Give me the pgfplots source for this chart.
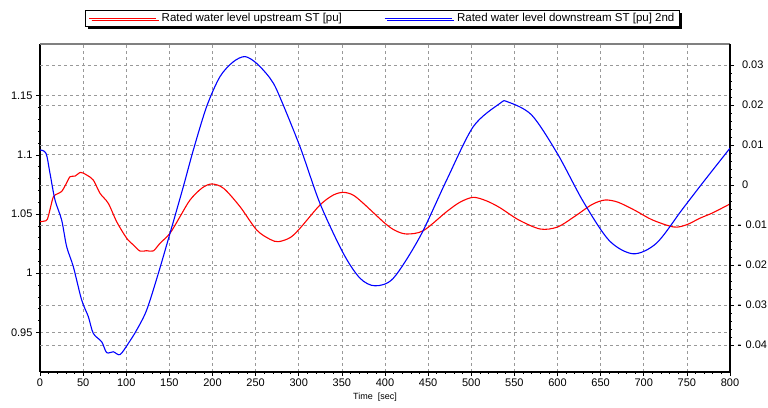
\documentclass[border=0pt]{standalone}
\usepackage{fontspec}
\setmainfont{Liberation Sans}
\usepackage{pgfplots}
\pgfplotsset{compat=1.18}
\usetikzlibrary{shadows}

\newcommand{\dash}{\makebox[0pt][l]{\rule[3pt]{3.6pt}{0.9pt}}-\hspace{4.5pt}}

\pgfplotstableread{
t v
0 1.0435
5 1.0440
8.5 1.0455
12 1.055
15.5 1.0646
20 1.067
25 1.069
30 1.075
34.8 1.0815
40.6 1.082
47.1 1.0852
54 1.083
61.8 1.0787
69.6 1.0675
79.2 1.059
88.9 1.0435
100.5 1.0295
108 1.024
115.9 1.0187
123.6 1.019
131.4 1.0188
139.1 1.0252
150.7 1.0337
162.3 1.0477
173.9 1.0618
187.4 1.0717
199 1.0754
212.9 1.0717
231.9 1.0562
251.2 1.0365
266.7 1.0286
276.3 1.0266
290 1.030
301.4 1.0379
324.6 1.0576
340 1.066
351.7 1.0683
363 1.066
374.9 1.059
400 1.0421
412 1.036
425.1 1.0331
444.4 1.0359
471.5 1.052
487 1.060
502.4 1.0641
518 1.061
533.3 1.0553
555 1.045
580 1.0373
600 1.039
620 1.048
640 1.058
655 1.0618
670 1.060
690 1.053
710 1.045
735 1.039
750 1.041
765 1.0464
780 1.051
800 1.0585
}\upstream

\pgfplotstableread{
t v
0 0.00875
7 0.0079
11.6 0.0029
17.4 -0.00375
25.1 -0.00875
30.9 -0.0154
38.6 -0.0204
48.3 -0.02875
56 -0.0329
61.8 -0.0371
71.5 -0.0392
77.3 -0.0419
85 -0.0417
92.8 -0.0424
102.4 -0.0396
112.1 -0.03625
123.7 -0.03125
137.2 -0.0221
150.7 -0.0121
166.2 -0.0004
177.8 0.00875
193.2 0.0196
208.7 0.0271
224.1 0.0308
237.7 0.0321
251.2 0.0304
266.7 0.0267
276.3 0.0229
301.4 0.0096
324.6 -0.0046
351.7 -0.0171
371 -0.0233
388.4 -0.0252
409.7 -0.0233
440.6 -0.0129
471.5 0.00125
502.4 0.0146
533.3 0.0204
542 0.0208
570 0.0175
600 0.0078
630 -0.0042
660 -0.0139
688 -0.0172
715 -0.0145
745 -0.0060
770 0.0010
800 0.0092
}\downstream

\pgfplotsset{
  common/.style={
    scale only axis, width=690pt, height=327.7pt,
    at={(40pt,35.3pt)}, anchor=south west,
    xmin=0, xmax=800,
    tick align=outside, major tick length=4pt, minor tick length=2pt,
    tick style={black, line width=0.6pt},
    axis line style={-, black, line width=1.6pt},
    ticklabel style={font=\fontsize{11}{13}\selectfont},
    /pgf/number format/assume math mode=true,
  },
}

\begin{document}
\begin{tikzpicture}
\path[use as bounding box] (0pt,0pt) rectangle (768pt,407pt);

\begin{axis}[common,
  ymin=0.9167, ymax=1.1937,
  axis x line*=bottom, axis y line*=left,
  xtick={0,50,...,800}, minor x tick num=4,
  ytick={0.95,1,1.05,1.1,1.15},
  yticklabels={0.95,1,1.05,1.1,1.15},
  minor y tick num=4,
  extra y ticks={0.93926,0.97307,1.00689,1.04070,1.07451,1.10832,1.14213,1.17595},
  extra y tick labels={},
  extra y tick style={grid=major, major tick length=0pt},
  grid=major,
  grid style={gray!80, line width=0.7pt, dash pattern=on 3pt off 3pt},
  xlabel={Time\ \ [sec]},
  xlabel style={font=\fontsize{9}{11}\selectfont, yshift=1pt, xshift=-10pt},
  legend style={at={(0.4964,1.078)}, anchor=center, legend columns=2,
    draw=black, fill=white, font=\fontsize{11.5}{13}\selectfont,
    inner xsep=3pt, inner ysep=1pt, row sep=-1pt,
    drop shadow={shadow xshift=2.5pt, shadow yshift=-2.5pt, fill=black, opacity=1},
    /tikz/every odd column/.append style={column sep=3pt},
    /tikz/every even column/.append style={column sep=40pt}},
  legend image code/.code={\draw[#1] (0pt,0pt) -- (67pt,0pt);},
]
\addplot[red, line width=1.1pt, smooth, tension=0.5] table[x=t, y=v] {\upstream};
\addlegendentry{Rated water level upstream ST [pu]}
\addlegendimage{blue, line width=1.1pt}
\addlegendentry{Rated water level downstream ST [pu] 2nd}
\draw[gray, line width=1.2pt] (rel axis cs:0,1) -- (rel axis cs:1,1);
\end{axis}

\begin{axis}[common,
  ymin=-0.046675, ymax=0.03525,
  axis x line=none, axis y line*=right,
  scaled y ticks=false,
  ytick={-0.04,-0.03,-0.02,-0.01,0,0.01,0.02,0.03},
  yticklabels={{\dash 0.04},{\dash 0.03},{\dash 0.02},{\dash 0.01},
    {\hspace{4.5pt}0},{\hspace{4.5pt}0.01},{\hspace{4.5pt}0.02},{\hspace{4.5pt}0.03}},
  minor y tick num=4,
  yticklabel style={anchor=west},
]
\addplot[blue, line width=1.1pt, smooth, tension=0.5] table[x=t, y=v] {\downstream};
\end{axis}
\end{tikzpicture}
\end{document}
